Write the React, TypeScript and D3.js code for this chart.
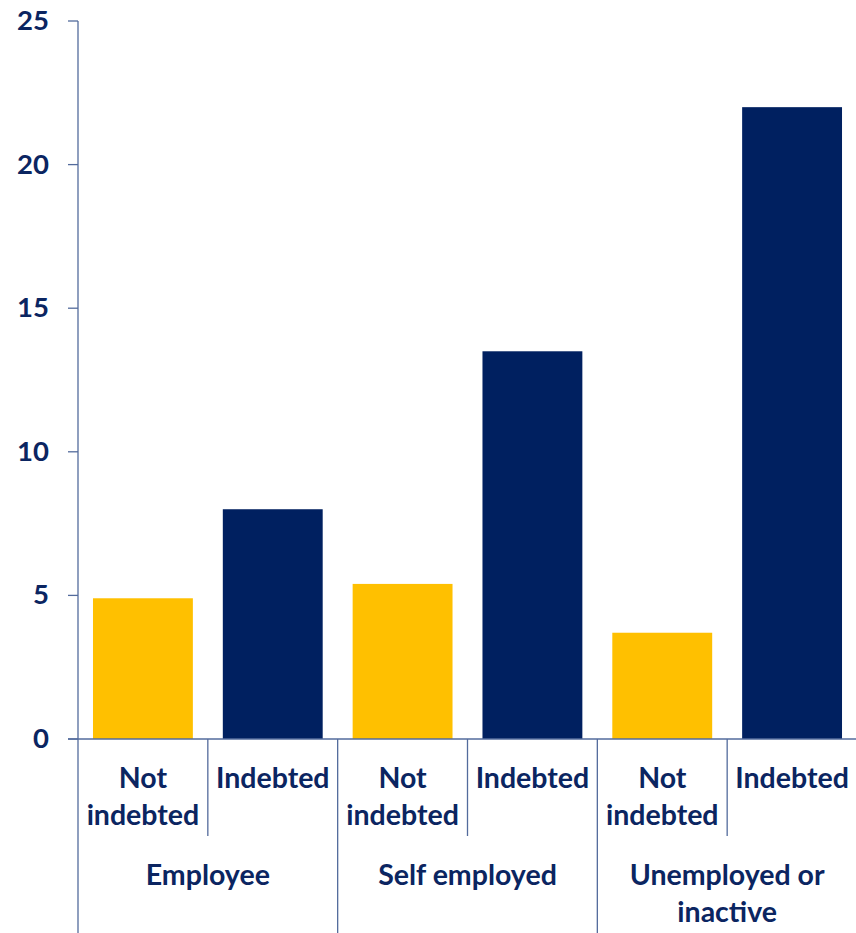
import React from "react";
import * as d3 from "d3";

const groups = ["Employee", "Self employed", "Unemployed or inactive"];
const groupLines = [["Employee"], ["Self employed"], ["Unemployed or", "inactive"]];
const subCats = ["Not indebted", "Indebted"];
const subLines = [["Not", "indebted"], ["Indebted"]];
const values = [4.9, 8.0, 5.4, 13.5, 3.7, 22.0];
const yTicks = [0, 5, 10, 15, 20, 25];
const colors = ["#FFC000", "#002060"];

const W = 856;
const H = 933;
const FONT = "Lato, 'Open Sans', sans-serif";
const TEXT = "#0B2561";
const AXIS = "#536b9c";
const LABEL_SIZE = 28.5;

export default function App() {
  const keys = d3.range(groups.length * subCats.length).map(String);
  const x = d3.scaleBand<string>().domain(keys).range([78, 857]).paddingInner(0.2307).paddingOuter(0.1154);
  const band = d3.scaleBand<string>().domain(keys).range([78, 857]).padding(0);
  const y = d3.scaleLinear().domain([0, 25]).range([739, 21]);
  const step = band.step();
  const gx = (i: number) => band(String(i * 2))!;
  return (
    <svg width={W} height={H} style={{ position: "absolute", left: 0, top: 0, background: "#fff" }}>
      {values.map((v, i) => (
        <rect key={i} x={x(String(i))} y={y(v)} width={x.bandwidth()} height={y(0) - y(v)} fill={colors[i % 2]} />
      ))}
      {/* y axis */}
      <line x1={78} x2={78} y1={y(25)} y2={H} stroke={AXIS} strokeWidth={1.3} />
      {yTicks.map((t) => (
        <g key={t}>
          <line x1={68} x2={78} y1={y(t)} y2={y(t)} stroke={AXIS} strokeWidth={1.3} />
          <text x={49} y={y(t) + 9} textAnchor="end" fontFamily={FONT} fontWeight={700} fontSize={27.5} fill={TEXT}>
            {t}
          </text>
        </g>
      ))}
      {/* x axis */}
      <line x1={68} x2={857} y1={y(0)} y2={y(0)} stroke={AXIS} strokeWidth={1.3} />
      {groups.map((g, gi) => (
        <g key={g}>
          {gi > 0 && <line x1={gx(gi)} x2={gx(gi)} y1={y(0)} y2={H} stroke={AXIS} strokeWidth={1.3} />}
          <line x1={gx(gi) + step} x2={gx(gi) + step} y1={y(0)} y2={836} stroke={AXIS} strokeWidth={1.3} />
          {subCats.map((s, si) =>
            subLines[si].map((ln, li) => (
              <text
                key={s + li}
                x={gx(gi) + step * si + step / 2}
                y={788 + li * 37}
                textAnchor="middle"
                fontFamily={FONT}
                fontWeight={700}
                fontSize={LABEL_SIZE}
                fill={TEXT}
              >
                {ln}
              </text>
            ))
          )}
          {groupLines[gi].map((ln, li) => (
            <text
              key={ln}
              x={gx(gi) + step}
              y={885 + li * 37}
              textAnchor="middle"
              fontFamily={FONT}
              fontWeight={700}
              fontSize={LABEL_SIZE}
              fill={TEXT}
            >
              {ln}
            </text>
          ))}
        </g>
      ))}
    </svg>
  );
}
